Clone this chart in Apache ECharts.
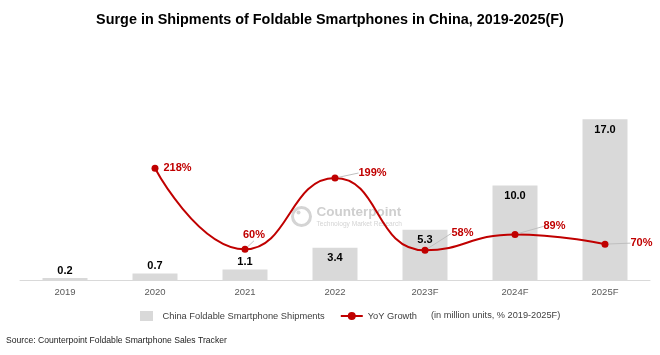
<!DOCTYPE html>
<html><head><meta charset="utf-8">
<script src="https://cdn.jsdelivr.net/npm/echarts@6/dist/echarts.min.js"></script>
<style>html,body{margin:0;padding:0;background:#fff}#c{width:660px;height:355px}</style>
</head><body><div id="c"></div>
<script>
const categories = ['2019', '2020', '2021', '2022', '2023F', '2024F', '2025F'];
const shipments = [0.2, 0.7, 1.1, 3.4, 5.3, 10.0, 17.0];
const yoyGrowth = [null, 218, 60, 199, 58, 89, 70];
const seriesNames = ['China Foldable Smartphone Shipments', 'YoY Growth'];
const titleText = 'Surge in Shipments of Foldable Smartphones in China, 2019-2025(F)';
const unitNote = '(in million units, % 2019-2025F)';
const sourceText = 'Source: Counterpoint Foldable Smartphone Sales Tracker';

const FONT = '"Liberation Sans", Arial, sans-serif';
const RED = '#c00000';
// label offsets (styling) for the growth labels
const growthLabelShift = [
  null,
  { pos: 'right', dx: 0, dy: 0, line: false },
  { pos: 'top', dx: 9, dy: 0, line: true },
  { pos: 'right', dx: 15, dy: -5, line: true },
  { pos: 'right', dx: 18, dy: -17, line: true },
  { pos: 'right', dx: 20, dy: -8, line: true },
  { pos: 'right', dx: 17, dy: -1, line: true }
];

const chart = echarts.init(document.getElementById('c'), null, { renderer: 'canvas' });

const barData = shipments.map(v => ({
  value: v,
  label: v < 2 ? { position: 'top', distance: 2 } : { position: 'insideTop', distance: 5 }
}));
const lineData = yoyGrowth.map((v, i) => {
  if (v == null) return null;
  const s = growthLabelShift[i];
  return {
    value: v,
    label: { position: s.pos, distance: 5 },
    labelLine: { show: s.line }
  };
});

chart.setOption({
  animation: false,
  textStyle: { fontFamily: FONT },
  title: {
    text: titleText,
    left: 'center',
    top: 8,
    textStyle: { fontFamily: FONT, fontSize: 14.4, fontWeight: 'bold', color: '#000' }
  },
  grid: { left: 20, right: 10, top: 53, bottom: 75, containLabel: false },
  legend: {
    left: 135,
    top: 306,
    itemWidth: 22,
    itemHeight: 10,
    itemGap: 15,
    textStyle: { fontSize: 9.3, color: '#404040', fontFamily: FONT },
    data: [
      { name: seriesNames[0], icon: 'path://M0,0h13v10h-13z' },
      { name: seriesNames[1] }
    ]
  },
  xAxis: {
    type: 'category',
    data: categories,
    axisLine: { lineStyle: { color: '#d9d9d9', width: 1 } },
    axisTick: { show: false },
    axisLabel: { color: '#595959', fontSize: 9.5, margin: 7, fontFamily: FONT }
  },
  yAxis: [
    { type: 'value', min: 0, max: 24, show: false, splitLine: { show: false } },
    { type: 'value', min: 0, max: 443, show: false, splitLine: { show: false } }
  ],
  series: [
    {
      name: seriesNames[0],
      type: 'bar',
      barWidth: '50%',
      data: barData,
      itemStyle: { color: '#d9d9d9' },
      label: {
        show: true,
        color: '#000',
        fontWeight: 'bold',
        fontSize: 11,
        fontFamily: FONT,
        formatter: p => p.value.toFixed(1)
      },
      z: 1
    },
    {
      name: seriesNames[1],
      type: 'line',
      yAxisIndex: 1,
      data: lineData,
      smooth: 0.5,
      connectNulls: false,
      symbol: 'circle',
      symbolSize: 7,
      lineStyle: { color: RED, width: 2 },
      itemStyle: { color: RED },
      label: {
        show: true,
        color: RED,
        fontWeight: 'bold',
        fontSize: 11,
        fontFamily: FONT,
        formatter: p => p.value + '%'
      },
      labelLine: { show: true, lineStyle: { color: '#bfbfbf', width: 1 }, smooth: false },
      labelLayout: p => {
        const s = growthLabelShift[p.dataIndex];
        return s ? { dx: s.dx, dy: s.dy } : {};
      },
      z: 3
    }
  ],
  graphic: [
    {
      type: 'group', left: 290, top: 205, z: 0, silent: true,
      children: [
        { type: 'circle', shape: { cx: 12, cy: 12, r: 9 }, style: { fill: 'none', stroke: '#d4d4d4', lineWidth: 3 } },
        { type: 'circle', shape: { cx: 9, cy: 8, r: 2 }, style: { fill: '#d4d4d4' } },
        { type: 'text', x: 27, y: 1, style: { text: 'Counterpoint', font: 'bold 13.5px ' + FONT, fill: '#cfcfcf' } },
        { type: 'text', x: 27, y: 16, style: { text: 'Technology Market Research', font: '6.6px ' + FONT, fill: '#d4d4d4' } }
      ]
    },
    {
      type: 'text', left: 431, top: 311,
      style: { text: unitNote, font: '9.2px ' + FONT, fill: '#404040' }
    },
    {
      type: 'text', left: 6, top: 336,
      style: { text: sourceText, font: '8.6px ' + FONT, fill: '#222' }
    }
  ]
});
</script></body></html>
